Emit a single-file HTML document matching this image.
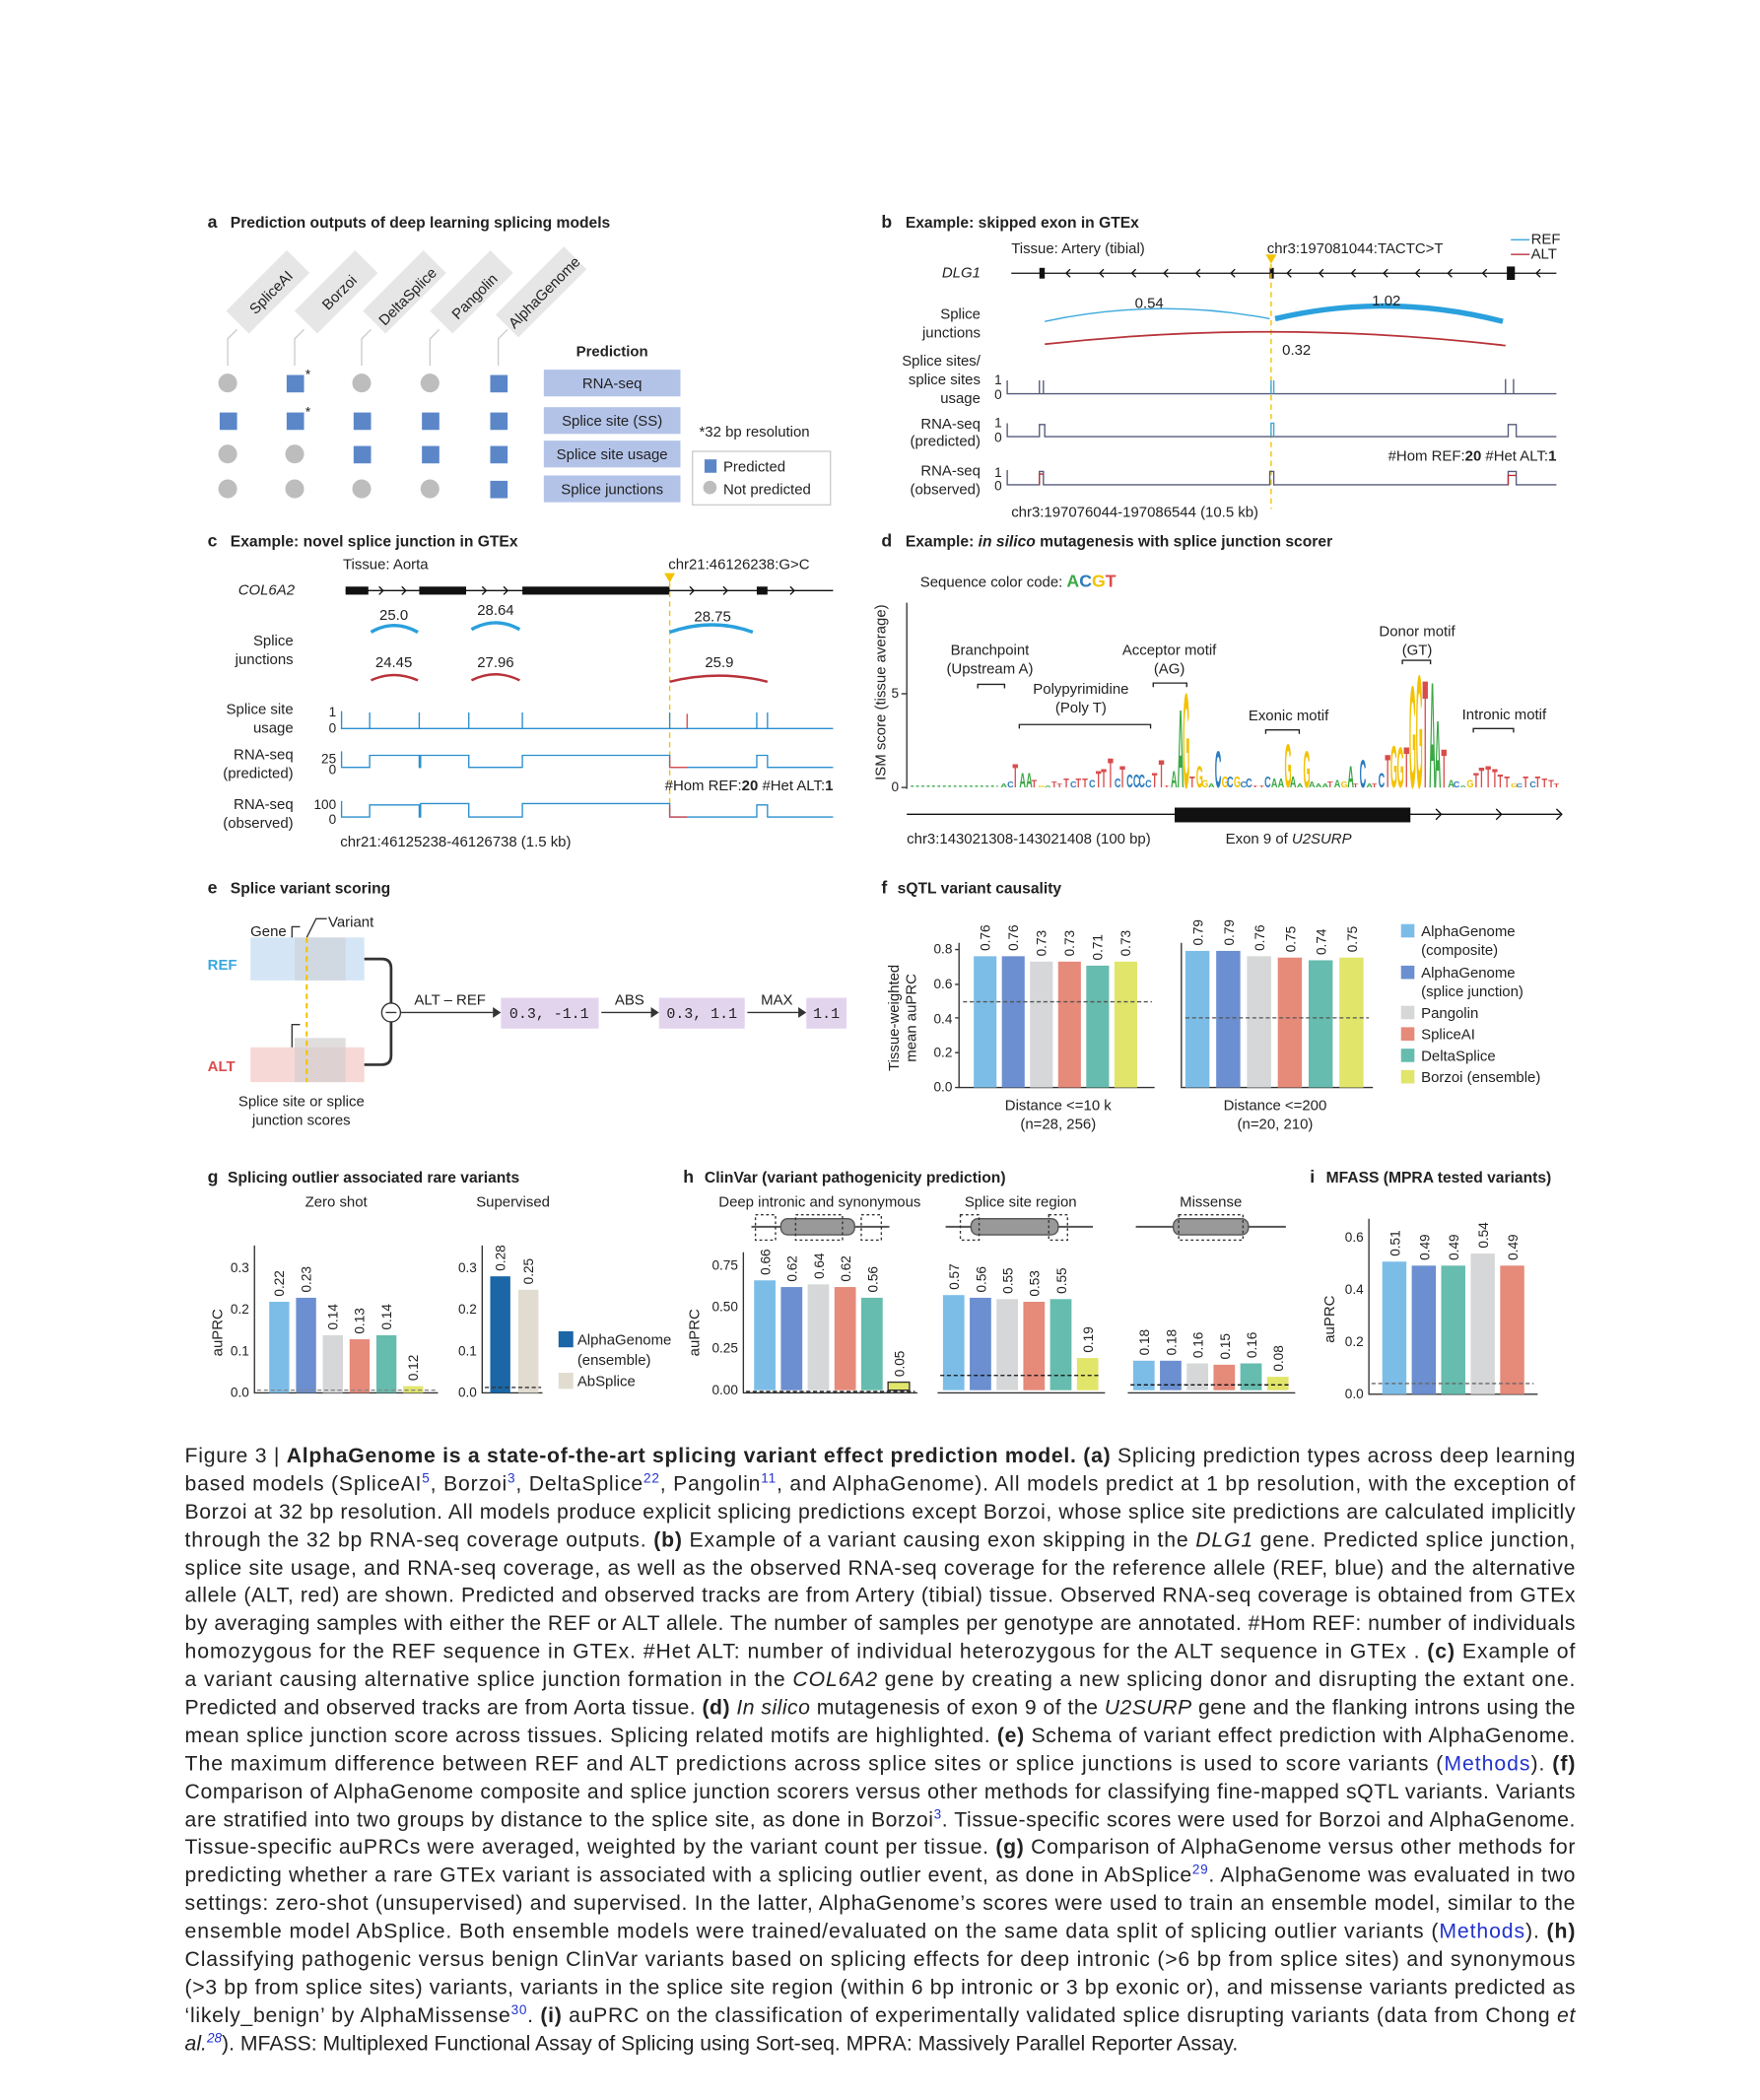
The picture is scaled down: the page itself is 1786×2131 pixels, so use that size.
<!DOCTYPE html>
<html><head><meta charset="utf-8"><style>
html,body{margin:0;padding:0;background:#fff}
svg{display:block}
text{font-family:"Liberation Sans",Arial,sans-serif;fill:#222}
.t{font-size:11.5px;font-weight:bold}
.l{font-size:11px}
.s{font-size:10px}
.cap{font-size:15.6px;fill:#111}
.A{fill:#3aa845}.C{fill:#2b7bbf}.G{fill:#f2c200}.T{fill:#d94c4c}
.mono{font-family:"Liberation Mono",monospace;font-size:11px}
</style></head><body>
<svg width="1786" height="2131" viewBox="0 0 1314 1568" preserveAspectRatio="none" xmlns="http://www.w3.org/2000/svg">
<rect width="1314" height="1568" fill="#fff"/>

<!-- ===== Panel a ===== -->
<text x="155" y="170" class="t" style="font-size:13px">a</text>
<text x="172" y="170" class="t">Prediction outputs of deep learning splicing models</text>
<g fill="#e6e6e6">
<g transform="translate(200,218) rotate(-45)"><rect x="-32" y="-12" width="64" height="24"/></g>
<g transform="translate(251,218) rotate(-45)"><rect x="-32" y="-12" width="64" height="24"/></g>
<g transform="translate(302,218) rotate(-45)"><rect x="-32" y="-12" width="64" height="24"/></g>
<g transform="translate(352,218) rotate(-45)"><rect x="-32" y="-12" width="64" height="24"/></g>
<g transform="translate(404,218) rotate(-45)"><rect x="-36" y="-12" width="72" height="24"/></g>
</g>
<g class="l" text-anchor="middle">
<text transform="translate(205,221) rotate(-45)" class="l">SpliceAI</text>
<text transform="translate(256,221) rotate(-45)" class="l">Borzoi</text>
<text transform="translate(307,224) rotate(-45)" class="l">DeltaSplice</text>
<text transform="translate(357,224) rotate(-45)" class="l">Pangolin</text>
<text transform="translate(409,221) rotate(-45)" class="l">AlphaGenome</text>
</g>
<g stroke="#ccc" fill="none" stroke-width="1">
<path d="M170,273 V253 L177,246"/><path d="M220,273 V253 L227,246"/><path d="M270,273 V253 L277,246"/><path d="M321,273 V253 L328,246"/><path d="M372,273 V253 L379,246"/>
</g>
<g fill="#bdbdbd">
<circle cx="170" cy="286" r="7"/><circle cx="270" cy="286" r="7"/><circle cx="321" cy="286" r="7"/>
<circle cx="170" cy="339" r="7"/><circle cx="220" cy="339" r="7"/>
<circle cx="170" cy="365" r="7"/><circle cx="220" cy="365" r="7"/><circle cx="270" cy="365" r="7"/><circle cx="321" cy="365" r="7"/>
</g>
<g fill="#5b87c9">
<rect x="214" y="280" width="13" height="13"/><rect x="366" y="280" width="13" height="13"/>
<rect x="164" y="308" width="13" height="13"/><rect x="214" y="308" width="13" height="13"/><rect x="264" y="308" width="13" height="13"/><rect x="315" y="308" width="13" height="13"/><rect x="366" y="308" width="13" height="13"/>
<rect x="264" y="333" width="13" height="13"/><rect x="315" y="333" width="13" height="13"/><rect x="366" y="333" width="13" height="13"/>
<rect x="366" y="359" width="13" height="13"/>
</g>
<text x="228" y="283" class="s">*</text><text x="228" y="311" class="s">*</text>
<text x="457" y="266" class="l" font-weight="bold" text-anchor="middle">Prediction</text>
<g fill="#b3c3e8">
<rect x="406" y="276" width="102" height="20"/><rect x="406" y="304" width="102" height="20"/><rect x="406" y="329" width="102" height="20"/><rect x="406" y="355" width="102" height="20"/>
</g>
<g class="l" text-anchor="middle">
<text x="457" y="290">RNA-seq</text><text x="457" y="318">Splice site (SS)</text><text x="457" y="343">Splice site usage</text><text x="457" y="369">Splice junctions</text>
</g>
<text x="522" y="326" class="l">*32 bp resolution</text>
<rect x="517" y="337" width="103" height="40" fill="none" stroke="#ccc"/>
<rect x="526" y="343" width="9" height="10" fill="#5b87c9"/><text x="540" y="352" class="l">Predicted</text>
<circle cx="530" cy="364" r="5" fill="#bdbdbd"/><text x="540" y="369" class="l">Not predicted</text>

<!-- ===== Panel b ===== -->
<text x="658" y="170" class="t" style="font-size:13px">b</text>
<text x="676" y="170" class="t">Example: skipped exon in GTEx</text>
<text x="755" y="189" class="l">Tissue: Artery (tibial)</text>
<text x="946" y="189" class="l">chr3:197081044:TACTC&gt;T</text>
<line x1="1128" y1="179" x2="1142" y2="179" stroke="#3aa7dd"/><text x="1143" y="182" class="l">REF</text>
<line x1="1128" y1="190" x2="1142" y2="190" stroke="#b8323a"/><text x="1143" y="193" class="l">ALT</text>
<text x="732" y="207" class="l" font-style="italic" text-anchor="end">DLG1</text>
<line x1="755" y1="204" x2="1162" y2="204" stroke="#111"/>
<rect x="776" y="200" width="4" height="8" fill="#111"/><rect x="948" y="200" width="3" height="8" fill="#111"/><rect x="1125" y="199" width="6" height="10" fill="#111"/>
<g stroke="#111" fill="none"><path d="M799,201 l-3,3 3,3M824,201 l-3,3 3,3M848,201 l-3,3 3,3M872,201 l-3,3 3,3M896,201 l-3,3 3,3M922,201 l-3,3 3,3M964,201 l-3,3 3,3M988,201 l-3,3 3,3M1012,201 l-3,3 3,3M1036,201 l-3,3 3,3M1060,201 l-3,3 3,3M1084,201 l-3,3 3,3M1110,201 l-3,3 3,3M1150,201 l-3,3 3,3"/></g>
<path d="M945,190 h8 l-4,7z" fill="#f2c200"/>
<line x1="949" y1="197" x2="949" y2="380" stroke="#f2c200" stroke-dasharray="4,3"/>
<text x="732" y="238" class="l" text-anchor="end">Splice</text><text x="732" y="252" class="l" text-anchor="end">junctions</text>
<path d="M780,240 Q864,222 948,238" stroke="#3aa7dd" fill="none" stroke-width="1"/>
<path d="M952,238 Q1036,218 1122,240" stroke="#2aa0dd" fill="none" stroke-width="4"/>
<path d="M780,257 Q952,238 1124,258" stroke="#b8323a" fill="none" stroke-width="1.3"/>
<text x="858" y="230" class="l" text-anchor="middle">0.54</text><text x="1035" y="228" class="l" text-anchor="middle">1.02</text><text x="968" y="265" class="l" text-anchor="middle">0.32</text>
<text x="732" y="273" class="l" text-anchor="end">Splice sites/</text><text x="732" y="287" class="l" text-anchor="end">splice sites</text><text x="732" y="301" class="l" text-anchor="end">usage</text>
<text x="748" y="287" class="s" text-anchor="end">1</text><text x="748" y="298" class="s" text-anchor="end">0</text>
<g stroke="#555a7a" fill="none">
<path d="M752,284 V294 H1162"/>
<path d="M776,294 V284 M779,294 V284 M1124,294 V283 M1130,294 V283" />
<path d="M752,316 V326 H776 V317 H780 V326 H1126 V317 H1132 V326 H1162"/>
<path d="M752,351 V362 H776 V352 H779 V362 H948 V352 H951 V362 H1126 V352 H1132 V362 H1162"/>
</g>
<path d="M949,294 V284 M951,294 V284" stroke="#3aa7dd"/>
<path d="M949,326 V316 H951 V326" stroke="#3aa7dd" fill="none"/>
<path d="M776,362 V354 H779 M1126,362 V355 H1132" stroke="#b8323a" fill="none"/>
<text x="732" y="320" class="l" text-anchor="end">RNA-seq</text><text x="732" y="333" class="l" text-anchor="end">(predicted)</text>
<text x="748" y="319" class="s" text-anchor="end">1</text><text x="748" y="330" class="s" text-anchor="end">0</text>
<text x="1162" y="344" class="l" text-anchor="end">#Hom REF:<tspan font-weight="bold">20</tspan> #Het ALT:<tspan font-weight="bold">1</tspan></text>
<text x="732" y="355" class="l" text-anchor="end">RNA-seq</text><text x="732" y="369" class="l" text-anchor="end">(observed)</text>
<text x="748" y="356" class="s" text-anchor="end">1</text><text x="748" y="366" class="s" text-anchor="end">0</text>
<text x="755" y="386" class="l">chr3:197076044-197086544 (10.5 kb)</text>

<!-- ===== Panel c ===== -->
<text x="155" y="408" class="t" style="font-size:13px">c</text>
<text x="172" y="408" class="t">Example: novel splice junction in GTEx</text>
<text x="256" y="425" class="l">Tissue: Aorta</text>
<text x="499" y="425" class="l">chr21:46126238:G&gt;C</text>
<text x="220" y="444" class="l" font-style="italic" text-anchor="end">COL6A2</text>
<line x1="258" y1="441" x2="622" y2="441" stroke="#111"/>
<g fill="#111"><rect x="258" y="438" width="17" height="6"/><rect x="313" y="438" width="35" height="6"/><rect x="390" y="438" width="110" height="6"/><rect x="565" y="438" width="8" height="6"/></g>
<g stroke="#111" fill="none"><path d="M283,438 l3,3 -3,3M300,438 l3,3 -3,3M360,438 l3,3 -3,3M376,438 l3,3 -3,3M515,438 l3,3 -3,3M540,438 l3,3 -3,3M590,438 l3,3 -3,3"/></g>
<path d="M496,428 h8 l-4,7z" fill="#f2c200"/>
<line x1="500" y1="435" x2="500" y2="610" stroke="#f2c200" stroke-dasharray="4,3"/>
<text x="219" y="482" class="l" text-anchor="end">Splice</text><text x="219" y="496" class="l" text-anchor="end">junctions</text>
<g fill="none" stroke="#2aa0dd" stroke-width="2.5"><path d="M277,472 Q294,462 312,472"/><path d="M352,470 Q370,460 388,470"/><path d="M500,472 Q532,461 562,472"/></g>
<g fill="none" stroke="#b8323a" stroke-width="1.8"><path d="M277,508 Q294,500 312,508"/><path d="M352,508 Q370,499 388,508"/><path d="M500,509 Q537,500 573,509"/></g>
<g class="l" text-anchor="middle"><text x="294" y="463">25.0</text><text x="370" y="459">28.64</text><text x="532" y="464">28.75</text><text x="294" y="498">24.45</text><text x="370" y="498">27.96</text><text x="537" y="498">25.9</text></g>
<text x="219" y="533" class="l" text-anchor="end">Splice site</text><text x="219" y="547" class="l" text-anchor="end">usage</text>
<text x="251" y="535" class="s" text-anchor="end">1</text><text x="251" y="547" class="s" text-anchor="end">0</text>
<g stroke="#2a8fcf" fill="none">
<path d="M255,531 V544 H622"/>
<path d="M276,544 V532 M313,544 V532 M350,544 V532 M390,544 V532 M500,544 V532 M565,544 V532 M573,544 V532"/>
<path d="M255,561 V573 H276 V564 H313 V573 H314 V564 H350 V573 H390 V564 H500 V573 H565 V564 H573 V573 H622"/>
<path d="M255,598 V610 H276 V601 H313 V610 H314 V600 H350 V610 H390 V600 H500 V610 H565 V601 H573 V610 H622"/>
</g>
<path d="M513,544 V533" stroke="#d94c4c"/>
<path d="M500,565 V573 H513 M500,601 V610 H513" stroke="#d94c4c" fill="none"/>
<text x="219" y="567" class="l" text-anchor="end">RNA-seq</text><text x="219" y="581" class="l" text-anchor="end">(predicted)</text>
<text x="251" y="570" class="s" text-anchor="end">25</text><text x="251" y="578" class="s" text-anchor="end">0</text>
<text x="622" y="590" class="l" text-anchor="end">#Hom REF:<tspan font-weight="bold">20</tspan> #Het ALT:<tspan font-weight="bold">1</tspan></text>
<text x="219" y="604" class="l" text-anchor="end">RNA-seq</text><text x="219" y="618" class="l" text-anchor="end">(observed)</text>
<text x="251" y="604" class="s" text-anchor="end">100</text><text x="251" y="615" class="s" text-anchor="end">0</text>
<text x="254" y="632" class="l">chr21:46125238-46126738 (1.5 kb)</text>

<!-- ===== Panel d ===== -->
<text x="658" y="408" class="t" style="font-size:13px">d</text>
<text x="676" y="408" class="t">Example: <tspan font-style="italic">in silico</tspan> mutagenesis with splice junction scorer</text>
<text x="687" y="438" class="l">Sequence color code: <tspan class="A" font-weight="bold" font-size="13">A</tspan><tspan class="C" font-weight="bold" font-size="13">C</tspan><tspan class="G" font-weight="bold" font-size="13">G</tspan><tspan class="T" font-weight="bold" font-size="13">T</tspan></text>
<text transform="translate(661,517) rotate(-90)" class="l" text-anchor="middle">ISM score (tissue average)</text>
<line x1="677" y1="450" x2="677" y2="589" stroke="#333"/>
<line x1="673" y1="518" x2="677" y2="518" stroke="#333"/><line x1="673" y1="588" x2="677" y2="588" stroke="#333"/>
<text x="671" y="521" class="s" text-anchor="end">5</text><text x="671" y="591" class="s" text-anchor="end">0</text>
<line x1="680" y1="587" x2="745" y2="587" stroke="#3aa845" stroke-dasharray="2,2"/>
<g font-weight="bold" font-size="10">
<text class="A" transform="translate(747,588) scale(.67,.39)">A</text>
<text class="C" transform="translate(752,588) scale(.67,.58)">C</text>
<text class="T" transform="translate(756,588) scale(.67,2.53)">T</text>
<text class="A" transform="translate(761,588) scale(.67,1.56)">A</text>
<text class="A" transform="translate(766,588) scale(.67,1.56)">A</text>
<text class="T" transform="translate(770,588) scale(.67,.78)">T</text>
<text class="G" transform="translate(775,588) scale(.67,.19)">G</text>
<text class="A" transform="translate(780,588) scale(.67,.19)">A</text>
<text class="T" transform="translate(785,588) scale(.67,.58)">T</text>
<text class="T" transform="translate(789,588) scale(.67,.39)">T</text>
<text class="T" transform="translate(794,588) scale(.67,.97)">T</text>
<text class="C" transform="translate(799,588) scale(.67,.58)">C</text>
<text class="T" transform="translate(803,588) scale(.67,.97)">T</text>
<text class="T" transform="translate(808,588) scale(.67,.97)">T</text>
<text class="C" transform="translate(813,588) scale(.67,.78)">C</text>
<text class="T" transform="translate(818,588) scale(.67,1.75)">T</text>
<text class="T" transform="translate(822,588) scale(.67,1.94)">T</text>
<text class="T" transform="translate(827,588) scale(.67,3.11)">T</text>
<text class="C" transform="translate(832,588) scale(.67,.97)">C</text>
<text class="T" transform="translate(836,588) scale(.67,2.33)">T</text>
<text class="C" transform="translate(841,588) scale(.67,1.36)">C</text>
<text class="C" transform="translate(846,588) scale(.67,1.36)">C</text>
<text class="C" transform="translate(850,588) scale(.67,1.36)">C</text>
<text class="C" transform="translate(855,588) scale(.67,.78)">C</text>
<text class="T" transform="translate(860,588) scale(.67,1.56)">T</text>
<text class="T" transform="translate(865,588) scale(.67,2.92)">T</text>
<text class="T" transform="translate(869,588) scale(.67,.19)">T</text>
<text class="A" transform="translate(874,588) scale(.67,1.75)">A</text>
<text class="A" transform="translate(879,588) scale(.67,8.36)">A</text>
<text class="G" transform="translate(883,588) scale(.67,10.1)">G</text>
<text class="T" transform="translate(888,588) scale(.67,1.17)">T</text>
<text class="G" transform="translate(893,588) scale(.67,2.33)">G</text>
<text class="G" transform="translate(897,588) scale(.67,.78)">G</text>
<text class="A" transform="translate(902,588) scale(.67,.39)">A</text>
<text class="C" transform="translate(907,588) scale(.67,3.89)">C</text>
<text class="G" transform="translate(912,588) scale(.67,1.17)">G</text>
<text class="C" transform="translate(916,588) scale(.67,1.17)">C</text>
<text class="G" transform="translate(921,588) scale(.67,1.17)">G</text>
<text class="C" transform="translate(926,588) scale(.67,.58)">C</text>
<text class="C" transform="translate(930,588) scale(.67,.97)">C</text>
<text class="T" transform="translate(935,588) scale(.67,.19)">T</text>
<text class="T" transform="translate(940,588) scale(.67,.19)">T</text>
<text class="C" transform="translate(944,588) scale(.67,1.17)">C</text>
<text class="A" transform="translate(949,588) scale(.67,.97)">A</text>
<text class="A" transform="translate(954,588) scale(.67,.97)">A</text>
<text class="G" transform="translate(959,588) scale(.67,4.67)">G</text>
<text class="A" transform="translate(963,588) scale(.67,1.17)">A</text>
<text class="A" transform="translate(968,588) scale(.67,.39)">A</text>
<text class="G" transform="translate(973,588) scale(.67,3.89)">G</text>
<text class="A" transform="translate(977,588) scale(.67,.58)">A</text>
<text class="A" transform="translate(982,588) scale(.67,.39)">A</text>
<text class="A" transform="translate(987,588) scale(.67,.39)">A</text>
<text class="T" transform="translate(991,588) scale(.67,.58)">T</text>
<text class="A" transform="translate(996,588) scale(.67,.78)">A</text>
<text class="G" transform="translate(1001,588) scale(.67,.58)">G</text>
<text class="A" transform="translate(1006,588) scale(.67,2.33)">A</text>
<text class="T" transform="translate(1010,588) scale(.67,.39)">T</text>
<text class="C" transform="translate(1015,588) scale(.67,2.92)">C</text>
<text class="A" transform="translate(1020,588) scale(.67,.39)">A</text>
<text class="T" transform="translate(1024,588) scale(.67,.39)">T</text>
<text class="C" transform="translate(1029,588) scale(.67,1.56)">C</text>
<text class="T" transform="translate(1034,588) scale(.67,3.5)">T</text>
<text class="G" transform="translate(1038,588) scale(.67,4.47)">G</text>
<text class="G" transform="translate(1043,588) scale(.67,4.28)">G</text>
<text class="T" transform="translate(1048,588) scale(.67,4.28)">T</text>
<text class="G" transform="translate(1052,588) scale(.67,10.9)">G</text>
<text class="G" transform="translate(1057,588) scale(.67,12.05)">G</text>
<text class="T" transform="translate(1062,588) scale(.67,11.5)">T</text>
<text class="A" transform="translate(1067,588) scale(.67,11.3)">A</text>
<text class="A" transform="translate(1071,588) scale(.67,7.19)">A</text>
<text class="T" transform="translate(1076,588) scale(.67,4.08)">T</text>
<text class="A" transform="translate(1081,588) scale(.67,.78)">A</text>
<text class="C" transform="translate(1085,588) scale(.67,.58)">C</text>
<text class="A" transform="translate(1090,588) scale(.67,.19)">A</text>
<text class="G" transform="translate(1095,588) scale(.67,.78)">G</text>
<text class="T" transform="translate(1100,588) scale(.67,1.56)">T</text>
<text class="T" transform="translate(1104,588) scale(.67,2.14)">T</text>
<text class="T" transform="translate(1109,588) scale(.67,2.33)">T</text>
<text class="T" transform="translate(1114,588) scale(.67,1.94)">T</text>
<text class="T" transform="translate(1118,588) scale(.67,1.36)">T</text>
<text class="T" transform="translate(1123,588) scale(.67,1.17)">T</text>
<text class="G" transform="translate(1128,588) scale(.67,.39)">G</text>
<text class="C" transform="translate(1132,588) scale(.67,.39)">C</text>
<text class="T" transform="translate(1137,588) scale(.67,1.17)">T</text>
<text class="C" transform="translate(1142,588) scale(.67,.58)">C</text>
<text class="T" transform="translate(1146,588) scale(.67,1.17)">T</text>
<text class="T" transform="translate(1151,588) scale(.67,.97)">T</text>
<text class="T" transform="translate(1156,588) scale(.67,.78)">T</text>
<text class="T" transform="translate(1160,588) scale(.67,.39)">T</text>
</g>
<g class="l" text-anchor="middle">
<text x="739" y="489">Branchpoint</text><text x="739" y="503">(Upstream A)</text>
<text x="807" y="518">Polypyrimidine</text><text x="807" y="532">(Poly T)</text>
<text x="873" y="489">Acceptor motif</text><text x="873" y="503">(AG)</text>
<text x="962" y="538">Exonic motif</text>
<text x="1058" y="475">Donor motif</text><text x="1058" y="489">(GT)</text>
<text x="1123" y="537">Intronic motif</text>
</g>
<g stroke="#222" fill="none">
<path d="M730,514 v-3 h20 v3"/><path d="M761,544 v-3 h98 v3"/><path d="M861,513 v-3 h25 v3"/><path d="M945,548 v-3 h25 v3"/><path d="M1047,496 v-3 h21 v3"/><path d="M1100,547 v-3 h30 v3"/>
</g>
<line x1="677" y1="608" x2="1165" y2="608" stroke="#111"/>
<rect x="877" y="603" width="176" height="11" fill="#111"/>
<path d="M1072,604 l4,4 -4,4M1117,604 l4,4 -4,4M1162,604 l4,4 -4,4" stroke="#111" fill="none"/>
<text x="677" y="630" class="l">chr3:143021308-143021408 (100 bp)</text>
<text x="915" y="630" class="l">Exon 9 of <tspan font-style="italic">U2SURP</tspan></text>

<!-- ===== Panel e ===== -->
<text x="155" y="667" class="t" style="font-size:13px">e</text>
<text x="172" y="667" class="t">Splice variant scoring</text>
<text x="187" y="699" class="l">Gene</text>
<path d="M218,708 V692 H224" stroke="#333" fill="none"/>
<text x="245" y="692" class="l">Variant</text>
<path d="M229,700 L236,686 H244" stroke="#333" fill="none"/>
<text x="155" y="724" class="l" font-weight="bold" style="fill:#3aa7dd">REF</text>
<rect x="187" y="700" width="85" height="32" fill="#d4e6f6"/>
<rect x="220" y="700" width="38" height="32" fill="#cfd2d8" opacity=".7"/>
<text x="155" y="800" class="l" font-weight="bold" style="fill:#d94c4c">ALT</text>
<rect x="187" y="782" width="85" height="26" fill="#f6d9d6"/>
<rect x="220" y="775" width="38" height="33" fill="#d3cfcf" opacity=".7"/>
<path d="M218,782 V765 H224" stroke="#333" fill="none"/>
<line x1="229" y1="700" x2="229" y2="808" stroke="#f2c200" stroke-dasharray="4,3" stroke-width="1.5"/>
<path d="M272,716 H285 Q292,716 292,723 V749 M272,795 H285 Q292,795 292,788 V763" stroke="#333" fill="none" stroke-width="2"/>
<circle cx="292" cy="756" r="7" fill="#fff" stroke="#333"/><line x1="288" y1="756" x2="296" y2="756" stroke="#333"/>
<line x1="299" y1="756" x2="368" y2="756" stroke="#333"/><path d="M368,752 l6,4 -6,4z" fill="#333"/>
<text x="336" y="750" class="l" text-anchor="middle">ALT – REF</text>
<rect x="374" y="745" width="73" height="23" fill="#e3d4ee"/><text x="410" y="760" class="mono" text-anchor="middle">0.3, -1.1</text>
<line x1="449" y1="756" x2="487" y2="756" stroke="#333"/><path d="M486,752 l6,4 -6,4z" fill="#333"/>
<text x="470" y="750" class="l" text-anchor="middle">ABS</text>
<rect x="492" y="745" width="64" height="23" fill="#e3d4ee"/><text x="524" y="760" class="mono" text-anchor="middle">0.3, 1.1</text>
<line x1="558" y1="756" x2="597" y2="756" stroke="#333"/><path d="M596,752 l6,4 -6,4z" fill="#333"/>
<text x="580" y="750" class="l" text-anchor="middle">MAX</text>
<rect x="602" y="745" width="30" height="23" fill="#e3d4ee"/><text x="617" y="760" class="mono" text-anchor="middle">1.1</text>
<text x="225" y="826" class="l" text-anchor="middle">Splice site or splice</text><text x="225" y="840" class="l" text-anchor="middle">junction scores</text>

<!-- ===== Panel f ===== -->
<text x="658" y="667" class="t" style="font-size:13px">f</text>
<text x="670" y="667" class="t">sQTL variant causality</text>
<text transform="translate(671,760) rotate(-90)" class="l" text-anchor="middle">Tissue-weighted</text>
<text transform="translate(684,760) rotate(-90)" class="l" text-anchor="middle">mean auPRC</text>
<path d="M716,704 V812 H862" stroke="#333" fill="none"/>
<g class="s" text-anchor="end"><text x="711" y="815">0.0</text><text x="711" y="789">0.2</text><text x="711" y="764">0.4</text><text x="711" y="738">0.6</text><text x="711" y="712">0.8</text></g>
<path d="M713,812h3M713,786h3M713,760h3M713,735h3M713,709h3" stroke="#333"/>
<g>
<rect x="727" y="714" width="17" height="98" fill="#7cbde8"/>
<rect x="748" y="714" width="17" height="98" fill="#6b8fd0"/>
<rect x="769" y="718" width="17" height="94" fill="#d5d7d8"/>
<rect x="790" y="718" width="17" height="94" fill="#e68a7a"/>
<rect x="811" y="721" width="17" height="91" fill="#66bcae"/>
<rect x="832" y="718" width="17" height="94" fill="#e1e56a"/>
</g>
<line x1="719" y1="748" x2="860" y2="748" stroke="#555" stroke-dasharray="3,2"/>
<g class="s">
<text transform="translate(739,710) rotate(-90)">0.76</text><text transform="translate(760,710) rotate(-90)">0.76</text><text transform="translate(781,714) rotate(-90)">0.73</text><text transform="translate(802,714) rotate(-90)">0.73</text><text transform="translate(823,717) rotate(-90)">0.71</text><text transform="translate(844,714) rotate(-90)">0.73</text>
</g>
<path d="M882,704 V812 H1025" stroke="#333" fill="none"/>
<g>
<rect x="885" y="710" width="18" height="102" fill="#7cbde8"/>
<rect x="908" y="710" width="18" height="102" fill="#6b8fd0"/>
<rect x="931" y="714" width="18" height="98" fill="#d5d7d8"/>
<rect x="954" y="715" width="18" height="97" fill="#e68a7a"/>
<rect x="977" y="717" width="18" height="95" fill="#66bcae"/>
<rect x="1000" y="715" width="18" height="97" fill="#e1e56a"/>
</g>
<line x1="885" y1="760" x2="1022" y2="760" stroke="#555" stroke-dasharray="3,2"/>
<g class="s">
<text transform="translate(898,706) rotate(-90)">0.79</text><text transform="translate(921,706) rotate(-90)">0.79</text><text transform="translate(944,710) rotate(-90)">0.76</text><text transform="translate(967,711) rotate(-90)">0.75</text><text transform="translate(990,713) rotate(-90)">0.74</text><text transform="translate(1013,711) rotate(-90)">0.75</text>
</g>
<g class="l" text-anchor="middle"><text x="790" y="829">Distance &lt;=10 k</text><text x="790" y="843">(n=28, 256)</text><text x="952" y="829">Distance &lt;=200</text><text x="952" y="843">(n=20, 210)</text></g>
<g class="l">
<rect x="1046" y="690" width="10" height="10" fill="#7cbde8"/><text x="1061" y="699">AlphaGenome</text><text x="1061" y="713">(composite)</text>
<rect x="1046" y="721" width="10" height="10" fill="#6b8fd0"/><text x="1061" y="730">AlphaGenome</text><text x="1061" y="744">(splice junction)</text>
<rect x="1046" y="751" width="10" height="10" fill="#d5d7d8"/><text x="1061" y="760">Pangolin</text>
<rect x="1046" y="767" width="10" height="10" fill="#e68a7a"/><text x="1061" y="776">SpliceAI</text>
<rect x="1046" y="783" width="10" height="10" fill="#66bcae"/><text x="1061" y="792">DeltaSplice</text>
<rect x="1046" y="799" width="10" height="10" fill="#e1e56a"/><text x="1061" y="808">Borzoi (ensemble)</text>
</g>

<!-- ===== Panel g ===== -->
<text x="155" y="883" class="t" style="font-size:13px">g</text>
<text x="170" y="883" class="t">Splicing outlier associated rare variants</text>
<text x="251" y="901" class="l" text-anchor="middle">Zero shot</text><text x="383" y="901" class="l" text-anchor="middle">Supervised</text>
<text transform="translate(166,995) rotate(-90)" class="l" text-anchor="middle">auPRC</text>
<path d="M190,930 V1040 H327" stroke="#333" fill="none"/>
<g class="s" text-anchor="end"><text x="186" y="1043">0.0</text><text x="186" y="1012">0.1</text><text x="186" y="981">0.2</text><text x="186" y="950">0.3</text></g>
<rect x="201" y="972" width="15" height="68" fill="#7cbde8"/>
<rect x="221" y="969" width="15" height="71" fill="#6b8fd0"/>
<rect x="241" y="997" width="15" height="43" fill="#d5d7d8"/>
<rect x="261" y="1000" width="15" height="40" fill="#e68a7a"/>
<rect x="281" y="997" width="15" height="43" fill="#66bcae"/>
<rect x="301" y="1035" width="15" height="5" fill="#e1e56a"/>
<line x1="192" y1="1038" x2="325" y2="1038" stroke="#888" stroke-dasharray="3,2"/>
<g class="s"><text transform="translate(212,968) rotate(-90)">0.22</text><text transform="translate(232,965) rotate(-90)">0.23</text><text transform="translate(252,993) rotate(-90)">0.14</text><text transform="translate(272,996) rotate(-90)">0.13</text><text transform="translate(292,993) rotate(-90)">0.14</text><text transform="translate(312,1031) rotate(-90)">0.12</text></g>
<path d="M360,930 V1040 H405" stroke="#333" fill="none"/>
<g class="s" text-anchor="end"><text x="356" y="1043">0.0</text><text x="356" y="1012">0.1</text><text x="356" y="981">0.2</text><text x="356" y="950">0.3</text></g>
<rect x="366" y="953" width="15" height="87" fill="#1a66a6"/>
<rect x="387" y="963" width="15" height="77" fill="#e2dcd0"/>
<line x1="362" y1="1036" x2="404" y2="1036" stroke="#333" stroke-dasharray="3,2"/>
<g class="s"><text transform="translate(377,949) rotate(-90)">0.28</text><text transform="translate(398,959) rotate(-90)">0.25</text></g>
<g class="l"><rect x="417" y="994" width="11" height="12" fill="#1a66a6"/><text x="431" y="1004">AlphaGenome</text><text x="431" y="1019">(ensemble)</text>
<rect x="417" y="1025" width="11" height="12" fill="#e2dcd0"/><text x="431" y="1035">AbSplice</text></g>

<!-- ===== Panel h ===== -->
<text x="510" y="883" class="t" style="font-size:13px">h</text>
<text x="526" y="883" class="t">ClinVar (variant pathogenicity prediction)</text>
<g class="l" text-anchor="middle"><text x="612" y="901">Deep intronic and synonymous</text><text x="762" y="901">Splice site region</text><text x="904" y="901">Missense</text></g>
<g stroke="#555" fill="none">
<line x1="561" y1="916" x2="664" y2="916" stroke-width="1.5"/>
<rect x="583" y="910" width="55" height="12" rx="5" fill="#999"/>
<g stroke-dasharray="2,2" stroke="#333"><rect x="564" y="907" width="15" height="19"/><rect x="594" y="907" width="35" height="19"/><rect x="643" y="907" width="15" height="19"/></g>
<line x1="706" y1="916" x2="816" y2="916" stroke-width="1.5"/>
<rect x="725" y="910" width="65" height="12" rx="5" fill="#999"/>
<g stroke-dasharray="2,2" stroke="#333"><rect x="717" y="907" width="14" height="19"/><rect x="783" y="907" width="14" height="19"/></g>
<line x1="848" y1="916" x2="960" y2="916" stroke-width="1.5"/>
<rect x="876" y="910" width="56" height="12" rx="5" fill="#999"/>
<g stroke-dasharray="2,2" stroke="#333"><rect x="880" y="907" width="48" height="19"/></g>
</g>
<text transform="translate(522,995) rotate(-90)" class="l" text-anchor="middle">auPRC</text>
<path d="M555,935 V1040 H685" stroke="#333" fill="none"/>
<g class="s" text-anchor="end"><text x="551" y="1041">0.00</text><text x="551" y="1010">0.25</text><text x="551" y="979">0.50</text><text x="551" y="948">0.75</text></g>
<rect x="563" y="956" width="16" height="82" fill="#7cbde8"/>
<rect x="583" y="961" width="16" height="77" fill="#6b8fd0"/>
<rect x="603" y="959" width="16" height="79" fill="#d5d7d8"/>
<rect x="623" y="961" width="16" height="77" fill="#e68a7a"/>
<rect x="643" y="969" width="16" height="69" fill="#66bcae"/>
<rect x="663" y="1032" width="16" height="6" fill="#e1e56a" stroke="#333"/>
<line x1="557" y1="1039" x2="683" y2="1039" stroke="#111" stroke-dasharray="3,2"/>
<g class="s"><text transform="translate(575,952) rotate(-90)">0.66</text><text transform="translate(595,957) rotate(-90)">0.62</text><text transform="translate(615,955) rotate(-90)">0.64</text><text transform="translate(635,957) rotate(-90)">0.62</text><text transform="translate(655,965) rotate(-90)">0.56</text><text transform="translate(675,1028) rotate(-90)">0.05</text></g>
<line x1="700" y1="1040" x2="825" y2="1040" stroke="#333"/>
<rect x="704" y="967" width="16" height="71" fill="#7cbde8"/>
<rect x="724" y="969" width="16" height="69" fill="#6b8fd0"/>
<rect x="744" y="970" width="16" height="68" fill="#d5d7d8"/>
<rect x="764" y="972" width="16" height="66" fill="#e68a7a"/>
<rect x="784" y="970" width="16" height="68" fill="#66bcae"/>
<rect x="804" y="1014" width="16" height="24" fill="#e1e56a"/>
<line x1="702" y1="1027" x2="822" y2="1027" stroke="#111" stroke-dasharray="3,2"/>
<g class="s"><text transform="translate(716,963) rotate(-90)">0.57</text><text transform="translate(736,965) rotate(-90)">0.56</text><text transform="translate(756,966) rotate(-90)">0.55</text><text transform="translate(776,968) rotate(-90)">0.53</text><text transform="translate(796,966) rotate(-90)">0.55</text><text transform="translate(816,1010) rotate(-90)">0.19</text></g>
<line x1="842" y1="1040" x2="967" y2="1040" stroke="#333"/>
<rect x="846" y="1016" width="16" height="22" fill="#7cbde8"/>
<rect x="866" y="1016" width="16" height="22" fill="#6b8fd0"/>
<rect x="886" y="1018" width="16" height="20" fill="#d5d7d8"/>
<rect x="906" y="1019" width="16" height="19" fill="#e68a7a"/>
<rect x="926" y="1018" width="16" height="20" fill="#66bcae"/>
<rect x="946" y="1028" width="16" height="10" fill="#e1e56a"/>
<line x1="844" y1="1034" x2="964" y2="1034" stroke="#111" stroke-dasharray="3,2"/>
<g class="s"><text transform="translate(858,1012) rotate(-90)">0.18</text><text transform="translate(878,1012) rotate(-90)">0.18</text><text transform="translate(898,1014) rotate(-90)">0.16</text><text transform="translate(918,1015) rotate(-90)">0.15</text><text transform="translate(938,1014) rotate(-90)">0.16</text><text transform="translate(958,1024) rotate(-90)">0.08</text></g>

<!-- ===== Panel i ===== -->
<text x="978" y="883" class="t" style="font-size:13px">i</text>
<text x="990" y="883" class="t">MFASS (MPRA tested variants)</text>
<text transform="translate(996,985) rotate(-90)" class="l" text-anchor="middle">auPRC</text>
<path d="M1022,910 V1041 H1148" stroke="#333" fill="none"/>
<g class="s" text-anchor="end"><text x="1018" y="1044">0.0</text><text x="1018" y="1005">0.2</text><text x="1018" y="966">0.4</text><text x="1018" y="927">0.6</text></g>
<rect x="1032" y="942" width="18" height="99" fill="#7cbde8"/>
<rect x="1054" y="945" width="18" height="96" fill="#6b8fd0"/>
<rect x="1076" y="945" width="18" height="96" fill="#66bcae"/>
<rect x="1098" y="936" width="18" height="105" fill="#d5d7d8"/>
<rect x="1120" y="945" width="18" height="96" fill="#e68a7a"/>
<line x1="1024" y1="1033" x2="1145" y2="1033" stroke="#666" stroke-dasharray="3,2"/>
<g class="s"><text transform="translate(1045,938) rotate(-90)">0.51</text><text transform="translate(1067,941) rotate(-90)">0.49</text><text transform="translate(1089,941) rotate(-90)">0.49</text><text transform="translate(1111,932) rotate(-90)">0.54</text><text transform="translate(1133,941) rotate(-90)">0.49</text></g>

<!-- ===== Caption ===== -->
<g class="cap">
<text x="138" y="1092" textLength="1038" lengthAdjust="spacing">Figure 3 | <tspan font-weight="bold">AlphaGenome is a state-of-the-art splicing variant effect prediction model. (a)</tspan> Splicing prediction types across deep learning</text>
<text x="138" y="1113" textLength="1038" lengthAdjust="spacing">based models (SpliceAI<tspan font-size="10" dy="-6" style="fill:#2233cc">5</tspan><tspan dy="6">, Borzoi</tspan><tspan font-size="10" dy="-6" style="fill:#2233cc">3</tspan><tspan dy="6">, DeltaSplice</tspan><tspan font-size="10" dy="-6" style="fill:#2233cc">22</tspan><tspan dy="6">, Pangolin</tspan><tspan font-size="10" dy="-6" style="fill:#2233cc">11</tspan><tspan dy="6">, and AlphaGenome). All models predict at 1 bp resolution, with the exception of</tspan></text>
<text x="138" y="1134" textLength="1038" lengthAdjust="spacing">Borzoi at 32 bp resolution. All models produce explicit splicing predictions except Borzoi, whose splice site predictions are calculated implicitly</text>
<text x="138" y="1155" textLength="1038" lengthAdjust="spacing">through the 32 bp RNA-seq coverage outputs. <tspan font-weight="bold">(b)</tspan> Example of a variant causing exon skipping in the <tspan font-style="italic">DLG1</tspan> gene. Predicted splice junction,</text>
<text x="138" y="1176" textLength="1038" lengthAdjust="spacing">splice site usage, and RNA-seq coverage, as well as the observed RNA-seq coverage for the reference allele (REF, blue) and the alternative</text>
<text x="138" y="1196" textLength="1038" lengthAdjust="spacing">allele (ALT, red) are shown. Predicted and observed tracks are from Artery (tibial) tissue. Observed RNA-seq coverage is obtained from GTEx</text>
<text x="138" y="1217" textLength="1038" lengthAdjust="spacing">by averaging samples with either the REF or ALT allele. The number of samples per genotype are annotated. #Hom REF: number of individuals</text>
<text x="138" y="1238" textLength="1038" lengthAdjust="spacing">homozygous for the REF sequence in GTEx. #Het ALT: number of individual heterozygous for the ALT sequence in GTEx . <tspan font-weight="bold">(c)</tspan> Example of</text>
<text x="138" y="1259" textLength="1038" lengthAdjust="spacing">a variant causing alternative splice junction formation in the <tspan font-style="italic">COL6A2</tspan> gene by creating a new splicing donor and disrupting the extant one.</text>
<text x="138" y="1280" textLength="1038" lengthAdjust="spacing">Predicted and observed tracks are from Aorta tissue. <tspan font-weight="bold">(d)</tspan> <tspan font-style="italic">In silico</tspan> mutagenesis of exon 9 of the <tspan font-style="italic">U2SURP</tspan> gene and the flanking introns using the</text>
<text x="138" y="1301" textLength="1038" lengthAdjust="spacing">mean splice junction score across tissues. Splicing related motifs are highlighted. <tspan font-weight="bold">(e)</tspan> Schema of variant effect prediction with AlphaGenome.</text>
<text x="138" y="1322" textLength="1038" lengthAdjust="spacing">The maximum difference between REF and ALT predictions across splice sites or splice junctions is used to score variants (<tspan style="fill:#2233cc">Methods</tspan>). <tspan font-weight="bold">(f)</tspan></text>
<text x="138" y="1343" textLength="1038" lengthAdjust="spacing">Comparison of AlphaGenome composite and splice junction scorers versus other methods for classifying fine-mapped sQTL variants. Variants</text>
<text x="138" y="1364" textLength="1038" lengthAdjust="spacing">are stratified into two groups by distance to the splice site, as done in Borzoi<tspan font-size="10" dy="-6" style="fill:#2233cc">3</tspan><tspan dy="6">. Tissue-specific scores were used for Borzoi and AlphaGenome.</tspan></text>
<text x="138" y="1384" textLength="1038" lengthAdjust="spacing">Tissue-specific auPRCs were averaged, weighted by the variant count per tissue. <tspan font-weight="bold">(g)</tspan> Comparison of AlphaGenome versus other methods for</text>
<text x="138" y="1405" textLength="1038" lengthAdjust="spacing">predicting whether a rare GTEx variant is associated with a splicing outlier event, as done in AbSplice<tspan font-size="10" dy="-6" style="fill:#2233cc">29</tspan><tspan dy="6">. AlphaGenome was evaluated in two</tspan></text>
<text x="138" y="1426" textLength="1038" lengthAdjust="spacing">settings: zero-shot (unsupervised) and supervised. In the latter, AlphaGenome’s scores were used to train an ensemble model, similar to the</text>
<text x="138" y="1447" textLength="1038" lengthAdjust="spacing">ensemble model AbSplice. Both ensemble models were trained/evaluated on the same data split of splicing outlier variants (<tspan style="fill:#2233cc">Methods</tspan>). <tspan font-weight="bold">(h)</tspan></text>
<text x="138" y="1468" textLength="1038" lengthAdjust="spacing">Classifying pathogenic versus benign ClinVar variants based on splicing effects for deep intronic (&gt;6 bp from splice sites) and synonymous</text>
<text x="138" y="1489" textLength="1038" lengthAdjust="spacing">(&gt;3 bp from splice sites) variants, variants in the splice site region (within 6 bp intronic or 3 bp exonic or), and missense variants predicted as</text>
<text x="138" y="1510" textLength="1038" lengthAdjust="spacing">‘likely_benign’ by AlphaMissense<tspan font-size="10" dy="-6" style="fill:#2233cc">30</tspan><tspan dy="6">. </tspan><tspan font-weight="bold">(i)</tspan> auPRC on the classification of experimentally validated splice disrupting variants (data from Chong <tspan font-style="italic">et</tspan></text>
<text x="138" y="1531"><tspan font-style="italic">al.</tspan><tspan font-size="10" dy="-6" font-style="italic" style="fill:#2233cc">28</tspan><tspan dy="6">). MFASS: Multiplexed Functional Assay of Splicing using Sort-seq. MPRA: Massively Parallel Reporter Assay.</tspan></text>
</g>
</svg>
</body></html>
